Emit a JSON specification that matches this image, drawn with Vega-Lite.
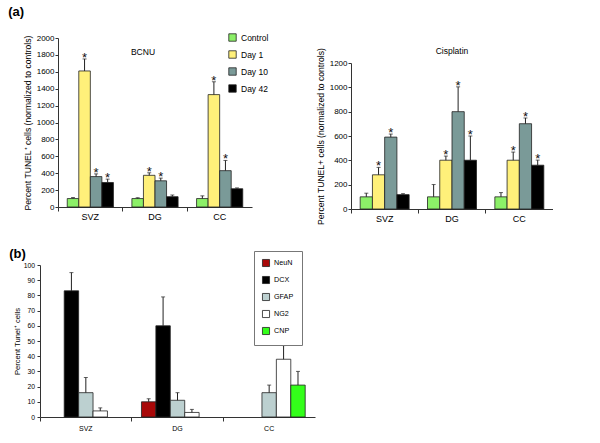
{
  "$schema": "https://vega.github.io/schema/vega-lite/v6.json",
  "padding": {"left": 8, "top": 6, "right": 0, "bottom": 0},
  "background": "white",
  "config": {
    "font": "Liberation Sans",
    "view": {"stroke": null},
    "axis": {"domainColor": "#333", "tickColor": "#333", "labelColor": "#000", "titleColor": "#000", "titleFontWeight": "normal", "grid": false, "labelOverlap": false},
    "legend": {"labelColor": "#000"}
  },
  "datasets": {
    "bcnu": [
      {"region": "SVZ", "series": "Control", "value": 100, "upper": 112, "sig": false},
      {"region": "SVZ", "series": "Day 1", "value": 1610, "upper": 1752, "sig": true},
      {"region": "SVZ", "series": "Day 10", "value": 360, "upper": 392, "sig": true},
      {"region": "SVZ", "series": "Day 42", "value": 290, "upper": 330, "sig": true},
      {"region": "DG", "series": "Control", "value": 100, "upper": 110, "sig": false},
      {"region": "DG", "series": "Day 1", "value": 375, "upper": 405, "sig": true},
      {"region": "DG", "series": "Day 10", "value": 310, "upper": 342, "sig": true},
      {"region": "DG", "series": "Day 42", "value": 122, "upper": 142, "sig": false},
      {"region": "CC", "series": "Control", "value": 100, "upper": 132, "sig": false},
      {"region": "CC", "series": "Day 1", "value": 1330, "upper": 1482, "sig": true},
      {"region": "CC", "series": "Day 10", "value": 430, "upper": 551, "sig": true},
      {"region": "CC", "series": "Day 42", "value": 216, "upper": 226, "sig": false}
    ],
    "cis": [
      {"region": "SVZ", "series": "Control", "value": 100, "upper": 130, "sig": false},
      {"region": "SVZ", "series": "Day 1", "value": 281, "upper": 342, "sig": true},
      {"region": "SVZ", "series": "Day 10", "value": 591, "upper": 616, "sig": true},
      {"region": "SVZ", "series": "Day 42", "value": 118, "upper": 126, "sig": false},
      {"region": "DG", "series": "Control", "value": 100, "upper": 201, "sig": false},
      {"region": "DG", "series": "Day 1", "value": 401, "upper": 435, "sig": true},
      {"region": "DG", "series": "Day 10", "value": 800, "upper": 1004, "sig": true},
      {"region": "DG", "series": "Day 42", "value": 401, "upper": 600, "sig": true},
      {"region": "CC", "series": "Control", "value": 100, "upper": 135, "sig": false},
      {"region": "CC", "series": "Day 1", "value": 401, "upper": 468, "sig": true},
      {"region": "CC", "series": "Day 10", "value": 701, "upper": 748, "sig": true},
      {"region": "CC", "series": "Day 42", "value": 360, "upper": 402, "sig": true}
    ],
    "markers": [
      {"region": "SVZ", "marker": "DCX", "value": 83, "upper": 95},
      {"region": "SVZ", "marker": "GFAP", "value": 16, "upper": 26},
      {"region": "SVZ", "marker": "NG2", "value": 4, "upper": 6},
      {"region": "DG", "marker": "NeuN", "value": 10, "upper": 12},
      {"region": "DG", "marker": "DCX", "value": 60, "upper": 79},
      {"region": "DG", "marker": "GFAP", "value": 11, "upper": 16},
      {"region": "DG", "marker": "NG2", "value": 3, "upper": 5},
      {"region": "CC", "marker": "GFAP", "value": 16, "upper": 21},
      {"region": "CC", "marker": "NG2", "value": 38, "upper": 47},
      {"region": "CC", "marker": "CNP", "value": 21, "upper": 30}
    ]
  },
  "spacing": 22,
  "resolve": {"scale": {"color": "independent", "x": "independent", "y": "independent", "xOffset": "independent"}, "legend": {"color": "independent"}},
  "vconcat": [
    {
      "title": {"text": "(a)", "anchor": "start", "fontSize": 13, "fontWeight": "bold", "color": "#000", "offset": 14, "dx": -15},
      "spacing": 47,
      "resolve": {"scale": {"color": "independent", "x": "independent", "y": "independent", "xOffset": "independent"}, "legend": {"color": "independent"}},
      "hconcat": [
        {
          "width": 194,
          "height": 169,
          "title": {"text": "BCNU", "fontSize": 8.5, "fontWeight": "normal", "color": "#000", "offset": -23, "dx": -12},
          "data": {"name": "bcnu"},
          "encoding": {
            "x": {"field": "region", "type": "nominal", "sort": ["SVZ", "DG", "CC"], "scale": {"paddingInner": 0, "paddingOuter": 0},
                  "axis": {"title": null, "labelAngle": 0, "bandPosition": 0, "tickSize": 4, "labelPadding": 1, "labelFontSize": 9}},
            "xOffset": {"field": "series", "type": "nominal", "sort": ["Control", "Day 1", "Day 10", "Day 42"], "scale": {"paddingInner": 0, "paddingOuter": 0.8}}
          },
          "layer": [
            {
              "mark": {"type": "bar", "stroke": "#222", "strokeWidth": 0.8},
              "encoding": {
                "y": {"field": "value", "type": "quantitative", "scale": {"domain": [0, 2000]},
                      "axis": {"title": "Percent TUNEL⁺ cells (normalized to controls)", "values": [0, 200, 400, 600, 800, 1000, 1200, 1400, 1600, 1800, 2000], "format": "d", "labelOverlap": false, "tickSize": 3, "labelPadding": 1, "labelFontSize": 8, "titleFontSize": 8.6, "titlePadding": 4}},
                "color": {"field": "series", "type": "nominal", "sort": ["Control", "Day 1", "Day 10", "Day 42"],
                          "scale": {"domain": ["Control", "Day 1", "Day 10", "Day 42"], "range": ["#8CF068", "#FFF07A", "#7A9A98", "#000000"]},
                          "legend": {"title": null, "orient": "none", "legendX": 170, "legendY": -5, "symbolType": "square", "symbolSize": 55, "symbolStrokeColor": "#222", "symbolStrokeWidth": 0.8, "labelFontSize": 8.5, "rowPadding": 6, "labelOffset": 4}}
              }
            },
            {"mark": {"type": "rule", "color": "#222", "strokeWidth": 1}, "encoding": {"y": {"field": "value", "type": "quantitative", "axis": {"title": "Percent TUNEL⁺ cells (normalized to controls)", "values": [0, 200, 400, 600, 800, 1000, 1200, 1400, 1600, 1800, 2000], "format": "d", "labelOverlap": false, "tickSize": 3, "labelPadding": 1, "labelFontSize": 8, "titleFontSize": 8.6, "titlePadding": 4}}, "y2": {"field": "upper"}}},
            {"mark": {"type": "tick", "color": "#222", "thickness": 1, "size": 4}, "encoding": {"y": {"field": "upper", "type": "quantitative", "axis": {"title": "Percent TUNEL⁺ cells (normalized to controls)", "values": [0, 200, 400, 600, 800, 1000, 1200, 1400, 1600, 1800, 2000], "format": "d", "labelOverlap": false, "tickSize": 3, "labelPadding": 1, "labelFontSize": 8, "titleFontSize": 8.6, "titlePadding": 4}}}},
            {"transform": [{"filter": "datum.sig"}], "mark": {"type": "text", "text": "*", "fontSize": 13, "baseline": "alphabetic", "dy": 3, "color": "#111"}, "encoding": {"y": {"field": "upper", "type": "quantitative", "axis": {"title": "Percent TUNEL⁺ cells (normalized to controls)", "values": [0, 200, 400, 600, 800, 1000, 1200, 1400, 1600, 1800, 2000], "format": "d", "labelOverlap": false, "tickSize": 3, "labelPadding": 1, "labelFontSize": 8, "titleFontSize": 8.6, "titlePadding": 4}}}}
          ]
        },
        {
          "width": 202,
          "height": 171,
          "title": {"text": "Cisplatin", "fontSize": 8.5, "fontWeight": "normal", "color": "#000", "offset": -17},
          "data": {"name": "cis"},
          "encoding": {
            "x": {"field": "region", "type": "nominal", "sort": ["SVZ", "DG", "CC"], "scale": {"paddingInner": 0, "paddingOuter": 0},
                  "axis": {"title": null, "labelAngle": 0, "bandPosition": 0, "tickSize": 4, "labelPadding": 1, "labelFontSize": 9}},
            "xOffset": {"field": "series", "type": "nominal", "sort": ["Control", "Day 1", "Day 10", "Day 42"], "scale": {"paddingInner": 0, "paddingOuter": 0.75}}
          },
          "layer": [
            {
              "mark": {"type": "bar", "stroke": "#222", "strokeWidth": 0.8},
              "encoding": {
                "y": {"field": "value", "type": "quantitative", "scale": {"domain": [0, 1200], "range": [171, 25]},
                      "axis": {"title": "Percent TUNEL+ cells (normalized to controls)", "values": [0, 200, 400, 600, 800, 1000, 1200], "format": "d", "labelOverlap": false, "tickSize": 3, "labelPadding": 1, "labelFontSize": 8, "titleFontSize": 8.6, "titlePadding": 4}},
                "color": {"field": "series", "type": "nominal",
                          "scale": {"domain": ["Control", "Day 1", "Day 10", "Day 42"], "range": ["#8CF068", "#FFF07A", "#7A9A98", "#000000"]},
                          "legend": null}
              }
            },
            {"mark": {"type": "rule", "color": "#222", "strokeWidth": 1}, "encoding": {"y": {"field": "value", "type": "quantitative", "axis": {"title": "Percent TUNEL+ cells (normalized to controls)", "values": [0, 200, 400, 600, 800, 1000, 1200], "format": "d", "labelOverlap": false, "tickSize": 3, "labelPadding": 1, "labelFontSize": 8, "titleFontSize": 8.6, "titlePadding": 4}}, "y2": {"field": "upper"}}},
            {"mark": {"type": "tick", "color": "#222", "thickness": 1, "size": 4}, "encoding": {"y": {"field": "upper", "type": "quantitative", "axis": {"title": "Percent TUNEL+ cells (normalized to controls)", "values": [0, 200, 400, 600, 800, 1000, 1200], "format": "d", "labelOverlap": false, "tickSize": 3, "labelPadding": 1, "labelFontSize": 8, "titleFontSize": 8.6, "titlePadding": 4}}}},
            {"transform": [{"filter": "datum.sig"}], "mark": {"type": "text", "text": "*", "fontSize": 13, "baseline": "alphabetic", "dy": 3, "color": "#111"}, "encoding": {"y": {"field": "upper", "type": "quantitative", "axis": {"title": "Percent TUNEL+ cells (normalized to controls)", "values": [0, 200, 400, 600, 800, 1000, 1200], "format": "d", "labelOverlap": false, "tickSize": 3, "labelPadding": 1, "labelFontSize": 8, "titleFontSize": 8.6, "titlePadding": 4}}}}
          ]
        }
      ]
    },
    {
      "width": 257,
      "height": 152,
      "title": {"text": "(b)", "anchor": "start", "frame": "bounds", "fontSize": 13, "fontWeight": "bold", "color": "#000", "offset": -10, "dx": -4},
      "data": {"name": "markers"},
      "encoding": {
        "x": {"field": "region", "type": "nominal", "sort": ["SVZ", "DG", "CC"], "scale": {"paddingInner": 0, "paddingOuter": 0, "range": [-18, 257]},
              "axis": {"title": null, "labelAngle": 0, "bandPosition": 0, "tickSize": 4, "labelPadding": 3, "labelFontSize": 7}},
        "xOffset": {"field": "marker", "type": "nominal", "sort": ["NeuN", "DCX", "GFAP", "NG2", "CNP"], "scale": {"domain": ["NeuN", "DCX", "GFAP", "NG2", "CNP"], "paddingInner": 0, "paddingOuter": 0.68}}
      },
      "layer": [
        {
          "mark": {"type": "bar", "stroke": "#222", "strokeWidth": 0.8},
          "encoding": {
            "y": {"field": "value", "type": "quantitative", "scale": {"domain": [0, 100]},
                  "axis": {"title": "Percent Tunel⁺ cells", "offset": 18, "values": [0, 10, 20, 30, 40, 50, 60, 70, 80, 90, 100], "labelOverlap": false, "tickSize": 3, "labelPadding": 2.5, "labelFontSize": 6.8, "titleFontSize": 7.6, "titlePadding": 2}},
            "color": {"field": "marker", "type": "nominal", "sort": ["NeuN", "DCX", "GFAP", "NG2", "CNP"],
                      "scale": {"domain": ["NeuN", "DCX", "GFAP", "NG2", "CNP"], "range": ["#A80808", "#000000", "#BCD0D0", "#FFFFFF", "#33FF1A"]},
                      "legend": {"title": null, "orient": "none", "legendX": 196, "legendY": -14, "symbolType": "square", "symbolSize": 50, "symbolStrokeColor": "#222", "symbolStrokeWidth": 0.8, "labelFontSize": 7.2, "rowPadding": 5, "labelOffset": 4, "padding": 8, "strokeColor": "#777", "fillColor": "white"}}
          }
        },
        {"mark": {"type": "rule", "color": "#222", "strokeWidth": 1}, "encoding": {"y": {"field": "value", "type": "quantitative", "axis": {"title": "Percent Tunel⁺ cells", "offset": 18, "values": [0, 10, 20, 30, 40, 50, 60, 70, 80, 90, 100], "labelOverlap": false, "tickSize": 3, "labelPadding": 2.5, "labelFontSize": 6.8, "titleFontSize": 7.6, "titlePadding": 2}}, "y2": {"field": "upper"}}},
        {"mark": {"type": "tick", "color": "#222", "thickness": 1, "size": 4}, "encoding": {"y": {"field": "upper", "type": "quantitative", "axis": {"title": "Percent Tunel⁺ cells", "offset": 18, "values": [0, 10, 20, 30, 40, 50, 60, 70, 80, 90, 100], "labelOverlap": false, "tickSize": 3, "labelPadding": 2.5, "labelFontSize": 6.8, "titleFontSize": 7.6, "titlePadding": 2}}}}
      ]
    }
  ]
}
